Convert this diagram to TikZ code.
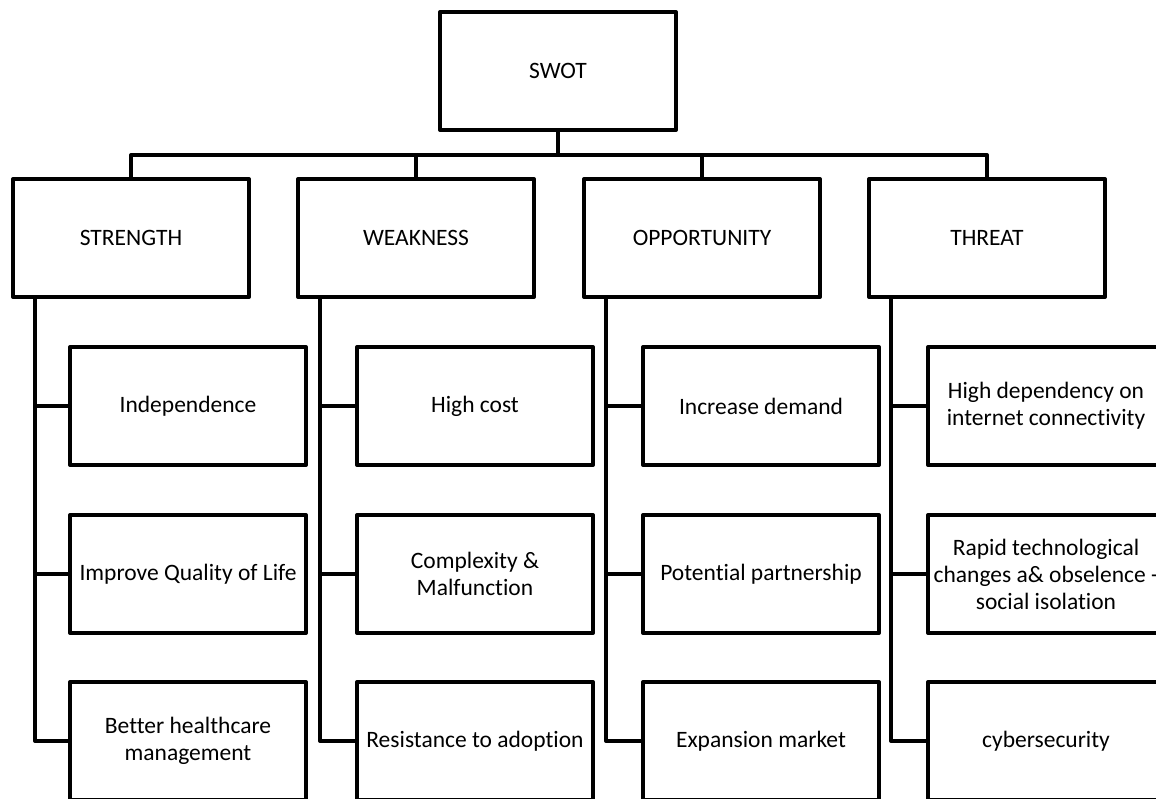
\documentclass[tikz,border=0pt]{standalone}
\usepackage{fontspec}
\setmainfont{Carlito}[Ligatures=NoCommon]
\begin{document}
\begin{tikzpicture}[x=1pt,y=-1pt,
  box/.style={draw, line width=4pt, line join=round, minimum width=236pt, minimum height=118pt,
    inner sep=0pt, align=center, font=\fontsize{23.5}{27}\selectfont},
  link/.style={line width=4pt, line join=round}]
\useasboundingbox (0,0) rectangle (1156,798);
\clip (0,0) rectangle (1156,798);
\node[box] (swot) at (558,71) {SWOT};
\node[box] (s) at (131,238) {STRENGTH};
\node[box] (w) at (416,238) {WEAKNESS};
\node[box] (o) at (702,238) {OPPORTUNITY};
\node[box] (t) at (987,238) {THREAT};
\node[box] (s1) at (188,406) {Independence};
\node[box] (s2) at (188,574) {Improve Quality of Life};
\node[box] (s3) at (188,741) {Better healthcare\\management};
\node[box] (w1) at (475,406) {High cost};
\node[box] (w2) at (475,574) {Complexity \&\\Malfunction};
\node[box] (w3) at (475,741) {Resistance to adoption};
\node[box] (o1) at (761,406) {Increase demand};
\node[box] (o2) at (761,574) {Potential partnership};
\node[box] (o3) at (761,741) {Expansion market};
\node[box] (t1) at (1046,406) {High dependency on\\internet connectivity};
\node[box] (t2) at (1046,574) {Rapid technological\\changes a\& obselence -\\social isolation};
\node[box] (t3) at (1046,741) {cybersecurity};
\coordinate (bar) at (0,155);
\draw[link] (swot.south) -- (swot.south |- bar);
\draw[link] (s.north) -- (s.north |- bar) -- (t.north |- bar) -- (t.north);
\draw[link] (w.north) -- (w.north |- bar);
\draw[link] (o.north) -- (o.north |- bar);
\foreach \p/\c in {s/s, w/w, o/o, t/t}{
  \draw[link] ([xshift=24pt]\p.south west) -- ([xshift=24pt]\p.south west |- \c3.west) -- (\c3.west);
  \draw[link] ([xshift=24pt]\p.south west |- \c1.west) -- (\c1.west);
  \draw[link] ([xshift=24pt]\p.south west |- \c2.west) -- (\c2.west);
}
\end{tikzpicture}
\end{document}
